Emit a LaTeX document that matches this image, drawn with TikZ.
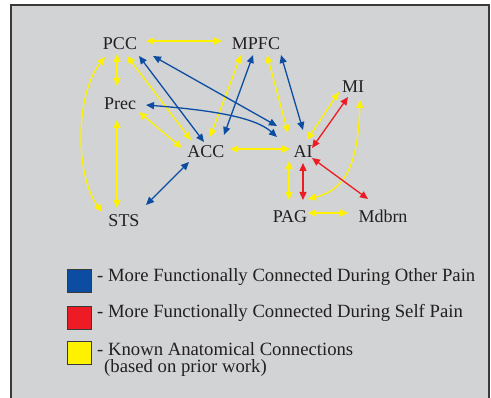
\documentclass[tikz,border=0pt]{standalone}
\usepackage{fontspec}
\setmainfont{Liberation Serif}
\usetikzlibrary{arrows.meta}
\definecolor{bgc}{HTML}{D1D3D4}
\definecolor{framec}{HTML}{3A3A3A}
\definecolor{txt}{HTML}{231F20}
\definecolor{ylw}{HTML}{FFF200}
\definecolor{blu}{HTML}{0D4DA1}
\definecolor{rd}{HTML}{ED1C24}
\tikzset{
  lbl/.style={anchor=base, inner sep=0pt, text=txt, font=\fontsize{18}{18}\selectfont},
  leg/.style={anchor=west, inner sep=0pt, text=txt, font=\fontsize{18.7}{18.7}\selectfont},
  conn/.style={line width=1.3pt, {Triangle[length=8pt,width=7pt]}-{Triangle[length=8pt,width=7pt]}},
  yl/.style={conn, draw=ylw},
  bl/.style={conn, draw=blu},
  rl/.style={conn, draw=rd},
  sq/.style={draw=framec, line width=0.8pt, minimum width=24pt, minimum height=23pt, inner sep=0pt}
}
\begin{document}
\begin{tikzpicture}[x=1pt,y=-1pt]
\useasboundingbox (0,0) rectangle (491,398);
\clip (0,0) rectangle (491,398);
\fill[white] (0,0) rectangle (491,398);
\draw[framec, fill=bgc, line width=1.6pt] (11,5) rectangle (489,410);

\node[lbl] (PCC) at (120,50) {PCC};
\node[lbl] (MPFC) at (256,50) {MPFC};
\node[lbl] (Prec) at (120,110) {Prec};
\node[lbl] (ACC) at (206,158) {ACC};
\node[lbl] (AI) at (303,158) {AI};
\node[lbl] (MI) at (353,93) {MI};
\node[lbl] (PAG) at (290,223) {PAG};
\node[lbl] (Mdbrn) at (383,223) {Mdbrn};
\node[lbl] (STS) at (124,227) {STS};

% yellow
\draw[yl] ([shift={(26,-9)}]PCC.base) -- ([shift={(-34,-9)}]MPFC.base);
\draw[yl] ([shift={(-3,4)}]PCC.base) -- ([shift={(-3,-24)}]Prec.base);
\draw[yl] ([shift={(7,6)}]PCC.base) -- ([shift={(-15,-18)}]ACC.base);
\draw[yl] ([shift={(-15,7)}]PCC.base) .. controls (75,95) and (75,175) .. ([shift={(-22,-15)}]STS.base);
\draw[yl] ([shift={(19,2)}]Prec.base) -- ([shift={(-24,-10)}]ACC.base);
\draw[yl] ([shift={(-3,10)}]Prec.base) -- ([shift={(-7,-19)}]STS.base);
\draw[yl] ([shift={(4,-21)}]ACC.base) -- ([shift={(-15,5)}]MPFC.base);
\draw[yl] ([shift={(11,5)}]MPFC.base) -- ([shift={(-15,-25)}]AI.base);
\draw[yl] ([shift={(24,-9)}]ACC.base) -- ([shift={(-13,-9)}]AI.base);
\draw[yl] ([shift={(4,-18)}]AI.base) -- ([shift={(-14,-1)}]MI.base);
\draw[yl] ([shift={(7,7)}]MI.base) .. controls (358,165) and (345,190) .. ([shift={(18,-24)}]PAG.base);
\draw[yl] ([shift={(-14,3)}]AI.base) -- ([shift={(-1,-23)}]PAG.base);
\draw[yl] ([shift={(18,-10)}]PAG.base) -- ([shift={(-35,-10)}]Mdbrn.base);

% blue
\draw[bl] ([shift={(19,6)}]PCC.base) -- ([shift={(-2,-16)}]ACC.base);
\draw[bl] ([shift={(33,6)}]PCC.base) -- ([shift={(-26,-32)}]AI.base);
\draw[bl] ([shift={(26,-5)}]Prec.base) .. controls (210,110) and (255,117) .. ([shift={(-26,-21)}]AI.base);
\draw[bl] ([shift={(-3,5)}]MPFC.base) -- ([shift={(18,-23)}]ACC.base);
\draw[bl] ([shift={(25,5)}]MPFC.base) -- ([shift={(0,-28)}]AI.base);
\draw[bl] ([shift={(-17,4)}]ACC.base) -- ([shift={(22,-22)}]STS.base);

% red
\draw[rl] ([shift={(9,-10)}]AI.base) -- ([shift={(-5,4)}]MI.base);
\draw[rl] ([shift={(0,5)}]AI.base) -- ([shift={(13,-23)}]PAG.base);
\draw[rl] ([shift={(9,0)}]AI.base) -- ([shift={(-15,-24)}]Mdbrn.base);

% legend
\node[sq, fill=blu] (sqB) at (79,280.5) {};
\node[sq, fill=rd] (sqR) at (79,317.5) {};
\node[sq, fill=ylw] (sqY) at (79,353) {};
\node[leg] (tB) at (97,277) {- More Functionally Connected During Other Pain};
\node[leg] (tR) at (97,313) {- More Functionally Connected During Self Pain};
\node[leg] (tY) at (97,349) {- Known Anatomical Connections};
\node[leg] (tY2) at (104,368) {(based on prior work)};
\end{tikzpicture}
\end{document}
